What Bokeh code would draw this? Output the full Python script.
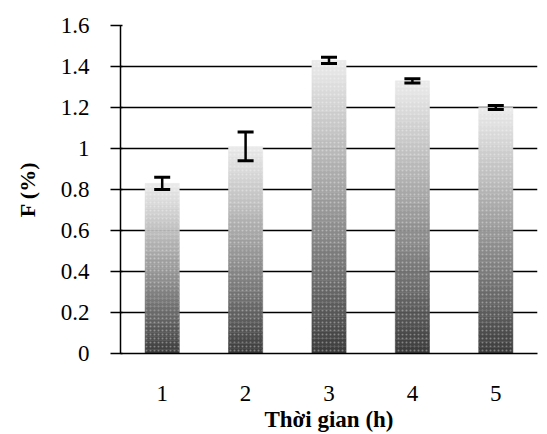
from bokeh.plotting import figure
from bokeh.models import ColumnDataSource, FixedTicker, FactorRange, Range1d
from bokeh.embed import file_html
from bokeh.resources import INLINE

categories = ["1", "2", "3", "4", "5"]
values = [0.83, 1.01, 1.43, 1.33, 1.20]
errors = [0.03, 0.07, 0.015, 0.01, 0.01]
y_ticks = [0, 0.2, 0.4, 0.6, 0.8, 1.0, 1.2, 1.4, 1.6]
y_tick_labels = ["0", "0.2", "0.4", "0.6", "0.8", "1", "1.2", "1.4", "1.6"]

FONT = "Liberation Serif"

p = figure(width=541, height=434, x_range=FactorRange(*categories),
           y_range=Range1d(0, 1.6), output_backend="svg", toolbar_location=None,
           min_border_left=120, min_border_right=4, min_border_top=25, min_border_bottom=79)
p.outline_line_color = None
p.background_fill_color = "white"

# gradient bars: stacked bands from dark (bottom) to light (top)
N = 40
dark = (58, 58, 58)
light = (236, 236, 236)
xs, bots, tops, cols = [], [], [], []
for c, v in zip(categories, values):
    for k in range(N):
        t = (k + 0.5) / N
        r = [int(d + (l - d) * t ** 0.9) for d, l in zip(dark, light)]
        xs.append(c)
        bots.append(v * k / N)
        tops.append(v * (k + 1) / N)
        cols.append("#%02x%02x%02x" % tuple(r))
bands = ColumnDataSource(dict(x=xs, bottom=bots, top=tops, color=cols))
p.vbar(x="x", bottom="bottom", top="top", width=0.41, source=bands,
       fill_color="color", line_color="color", line_width=0.5,
       hatch_pattern="dot", hatch_color="white", hatch_alpha=0.35, hatch_scale=4)

# error bars
upper = [v + e for v, e in zip(values, errors)]
lower = [v - e for v, e in zip(values, errors)]
p.segment(x0=categories, x1=categories, y0=lower, y1=upper, line_width=2.5, line_color="black")
p.scatter(x=categories, y=upper, marker="dash", size=16, line_width=3, line_color="black")
p.scatter(x=categories, y=lower, marker="dash", size=16, line_width=3, line_color="black")

# grid
p.xgrid.grid_line_color = None
p.ygrid.grid_line_color = "black"
p.ygrid.grid_line_width = 1.5
p.ygrid.ticker = FixedTicker(ticks=y_ticks)
p.ygrid.level = "underlay"

# y axis
p.yaxis.ticker = FixedTicker(ticks=y_ticks)
p.yaxis.major_label_overrides = {t: l for t, l in zip(y_ticks, y_tick_labels)}
p.yaxis.axis_label = "F (%)"
p.yaxis.axis_label_text_font = FONT
p.yaxis.axis_label_text_font_style = "bold"
p.yaxis.axis_label_text_font_size = "22px"
p.yaxis.axis_label_text_color = "black"
p.yaxis.axis_label_standoff = 18
p.yaxis.major_label_text_font = FONT
p.yaxis.major_label_text_font_size = "23px"
p.yaxis.major_label_text_color = "black"
p.yaxis.major_label_standoff = 21
p.yaxis.major_tick_out = 10
p.yaxis.major_tick_in = 2
p.yaxis.minor_tick_line_color = None
p.yaxis.axis_line_color = "black"
p.yaxis.axis_line_width = 1.5
p.yaxis.major_tick_line_width = 1.5

# x axis
p.xaxis.axis_label = "Thời gian (h)"
p.xaxis.axis_label_text_font = FONT
p.xaxis.axis_label_text_font_style = "bold"
p.xaxis.axis_label_text_font_size = "23px"
p.xaxis.axis_label_text_color = "black"
p.xaxis.axis_label_standoff = 3
p.xaxis.major_label_text_font = FONT
p.xaxis.major_label_text_font_size = "23px"
p.xaxis.major_label_text_color = "black"
p.xaxis.major_label_standoff = 26
p.xaxis.major_tick_line_color = None
p.xaxis.minor_tick_line_color = None
p.xaxis.axis_line_color = "black"
p.xaxis.axis_line_width = 1.5

open("out.html", "w").write(file_html(p, INLINE))
